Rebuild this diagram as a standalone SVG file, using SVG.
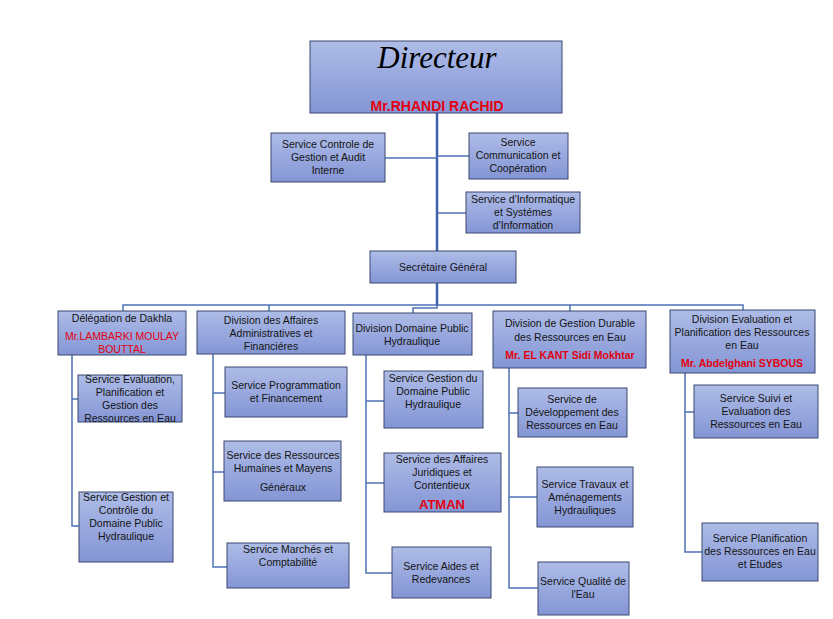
<svg xmlns="http://www.w3.org/2000/svg" width="833" height="619" viewBox="0 0 833 619">
<defs>
<linearGradient id="g" x1="0" y1="0" x2="0" y2="1">
<stop offset="0" stop-color="#AEBCE7"/>
<stop offset="1" stop-color="#8495D5"/>
</linearGradient>
<style>
.box{fill:url(#g);stroke:#3A4870;stroke-width:1}
.t{font-family:"Liberation Sans",Arial,sans-serif;font-size:10.5px;fill:#141414;text-anchor:middle}
.r{font-family:"Liberation Sans",Arial,sans-serif;font-size:10.5px;fill:#E3000F;text-anchor:middle}
.rb{font-family:"Liberation Sans",Arial,sans-serif;font-size:10.5px;font-weight:bold;fill:#E3000F;text-anchor:middle}
.c{fill:none;stroke:#4E72B8;stroke-width:1.5}
.trunk{fill:none;stroke:#3E62A8;stroke-width:2.5}
</style>
</defs>
<rect width="833" height="619" fill="#fff"/>
<g id="connectors">
<path class="trunk" d="M437 113V306"/>
<path class="c" d="M385 158H437M437 156H469M437 213H466"/>
<path class="c" d="M123 313V305H743V310M269 305V312M570 305V311"/>
<path class="c" d="M437 306V308H413V313"/>
<path class="c" d="M72 355V526H80M72 399H78"/>
<path class="c" d="M213 354V567H227M213 393H225M213 472H224"/>
<path class="c" d="M366 355V573H392M366 401H384M366 483H384"/>
<path class="c" d="M509 368V588H538M509 413H518M509 497H537"/>
<path class="c" d="M685 373V552H702M685 412H694"/>
</g>
<g id="directeur">
<rect class="box" x="310" y="41" width="252" height="72"/>
<text x="437" y="68" text-anchor="middle" font-family="'Liberation Serif',serif" font-style="italic" font-size="31" fill="#000">Directeur</text>
<text x="437" y="111" text-anchor="middle" font-family="'Liberation Sans',Arial,sans-serif" font-weight="bold" font-size="14" fill="#E3000F">Mr.RHANDI RACHID</text>
</g>
<g id="controle">
<rect class="box" x="271" y="133" width="114" height="49"/>
<text class="t" x="328" y="148">Service Controle de</text>
<text class="t" x="328" y="161">Gestion et Audit</text>
<text class="t" x="328" y="174">Interne</text>
</g>
<g id="communication">
<rect class="box" x="469" y="133" width="99" height="46"/>
<text class="t" x="518" y="146">Service</text>
<text class="t" x="518" y="159">Communication et</text>
<text class="t" x="518" y="172">Coopération</text>
</g>
<g id="informatique">
<rect class="box" x="466" y="192" width="114" height="41"/>
<text class="t" x="523" y="203">Service d'Informatique</text>
<text class="t" x="523" y="216">et Systémes</text>
<text class="t" x="523" y="229">d'Information</text>
</g>
<g id="secretaire">
<rect class="box" x="370" y="251" width="146" height="32"/>
<text class="t" x="443" y="271">Secrétaire Général</text>
</g>
<g id="delegation">
<rect class="box" x="58" y="311" width="128" height="44"/>
<text class="t" x="122" y="322">Délégation de Dakhla</text>
<text class="r" x="122" y="340">Mr.LAMBARKI MOULAY</text>
<text class="r" x="122" y="353">BOUTTAL</text>
</g>
<g id="div-affaires">
<rect class="box" x="197" y="311" width="148" height="43"/>
<text class="t" x="271" y="324">Division des Affaires</text>
<text class="t" x="271" y="337">Administratives et</text>
<text class="t" x="271" y="350">Financiéres</text>
</g>
<g id="div-domaine">
<rect class="box" x="353" y="313" width="119" height="42"/>
<text class="t" x="412" y="332">Division Domaine Public</text>
<text class="t" x="412" y="345">Hydraulique</text>
</g>
<g id="div-gestion">
<rect class="box" x="493" y="311" width="153" height="57"/>
<text class="t" x="570" y="327">Division de Gestion Durable</text>
<text class="t" x="570" y="341">des Ressources en Eau</text>
<text class="rb" x="570" y="359">Mr. EL KANT Sidi Mokhtar</text>
</g>
<g id="div-evaluation">
<rect class="box" x="670" y="310" width="145" height="63"/>
<text class="t" x="742" y="323">Division Evaluation et</text>
<text class="t" x="742" y="336">Planification des Ressources</text>
<text class="t" x="742" y="349">en Eau</text>
<text class="rb" x="742" y="367">Mr. Abdelghani SYBOUS</text>
</g>
<g id="s-evaluation">
<rect class="box" x="78" y="375" width="104" height="47"/>
<text class="t" x="130" y="383">Service Evaluation,</text>
<text class="t" x="130" y="396">Planification et</text>
<text class="t" x="130" y="409">Gestion des</text>
<text class="t" x="130" y="422">Ressources en Eau</text>
</g>
<g id="s-controle-dph">
<rect class="box" x="79" y="492" width="94" height="70"/>
<text class="t" x="126" y="501">Service Gestion et</text>
<text class="t" x="126" y="514">Contrôle du</text>
<text class="t" x="126" y="527">Domaine Public</text>
<text class="t" x="126" y="540">Hydraulique</text>
</g>
<g id="s-programmation">
<rect class="box" x="225" y="367" width="122" height="50"/>
<text class="t" x="286" y="389">Service Programmation</text>
<text class="t" x="286" y="402">et Financement</text>
</g>
<g id="s-rh">
<rect class="box" x="224" y="441" width="117" height="60"/>
<text class="t" x="283" y="459">Service des Ressources</text>
<text class="t" x="283" y="472">Humaines et Mayens</text>
<text class="t" x="283" y="491">Généraux</text>
</g>
<g id="s-marches">
<rect class="box" x="227" y="543" width="122" height="45"/>
<text class="t" x="288" y="553">Service Marchés et</text>
<text class="t" x="288" y="566">Comptabilité</text>
</g>
<g id="s-gestion-dph">
<rect class="box" x="384" y="371" width="99" height="57"/>
<text class="t" x="433" y="382">Service Gestion du</text>
<text class="t" x="433" y="395">Domaine Public</text>
<text class="t" x="433" y="408">Hydraulique</text>
</g>
<g id="s-juridiques">
<rect class="box" x="384" y="453" width="117" height="59"/>
<text class="t" x="442" y="463">Service des Affaires</text>
<text class="t" x="442" y="476">Juridiques et</text>
<text class="t" x="442" y="489">Contentieux</text>
<text x="442" y="509" text-anchor="middle" font-family="'Liberation Sans',Arial,sans-serif" font-weight="bold" font-size="13" fill="#E3000F">ATMAN</text>
</g>
<g id="s-aides">
<rect class="box" x="392" y="547" width="99" height="51"/>
<text class="t" x="441" y="570">Service Aides et</text>
<text class="t" x="441" y="583">Redevances</text>
</g>
<g id="s-developpement">
<rect class="box" x="518" y="388" width="109" height="49"/>
<text class="t" x="572" y="403">Service de</text>
<text class="t" x="572" y="416">Développement des</text>
<text class="t" x="572" y="429">Ressources en Eau</text>
</g>
<g id="s-travaux">
<rect class="box" x="537" y="467" width="96" height="60"/>
<text class="t" x="585" y="488">Service Travaux et</text>
<text class="t" x="585" y="501">Aménagements</text>
<text class="t" x="585" y="514">Hydrauliques</text>
</g>
<g id="s-qualite">
<rect class="box" x="538" y="562" width="91" height="53"/>
<text class="t" x="583" y="585">Service Qualité de</text>
<text class="t" x="583" y="598">l'Eau</text>
</g>
<g id="s-suivi">
<rect class="box" x="694" y="385" width="124" height="53"/>
<text class="t" x="756" y="402">Service Suivi et</text>
<text class="t" x="756" y="415">Evaluation des</text>
<text class="t" x="756" y="428">Ressources en Eau</text>
</g>
<g id="s-planification">
<rect class="box" x="702" y="523" width="116" height="58"/>
<text class="t" x="760" y="542">Service Planification</text>
<text class="t" x="760" y="555">des Ressources en Eau</text>
<text class="t" x="760" y="568">et Etudes</text>
</g>
</svg>
